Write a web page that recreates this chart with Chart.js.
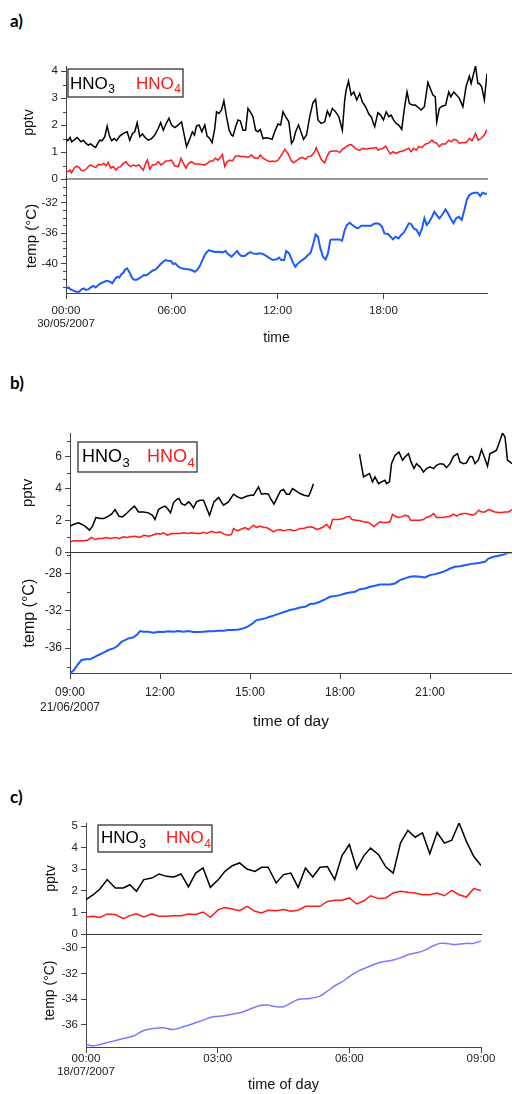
<!DOCTYPE html>
<html>
<head>
<meta charset="utf-8">
<script src="https://cdn.jsdelivr.net/npm/chart.js@4.4.0/dist/chart.umd.min.js"></script>
<style>
html, body { margin: 0; padding: 0; background: #fff; overflow: hidden; }
body { width: 512px; height: 1094px; position: relative; }
canvas { position: absolute; left: 0; }
.tag { position: absolute; left: 10px; font: bold 17px Lato, "Liberation Sans", sans-serif; color: #000; }
</style>
</head>
<body>
<div class="tag" style="top:10px">a)</div>
<div class="tag" style="top:372px">b)</div>
<div class="tag" style="top:786px">c)</div>
<script>
// ---- data (times in minutes from the first tick of each panel) ----
var dates = ['30/05/2007', '21/06/2007', '18/07/2007'];
var legendLabels = [['HNO', '3'], ['HNO', '4']];
// x tick positions (minutes)
var aXTicks = [0, 360, 720, 1080];
var bXTicks = [0, 180, 360, 540, 720];
var cXTicks = [0, 180, 360, 540];

// panel a
var aT3 = [0,6,14,19,27,38,51,59,68,76, 84,93,101,108,115,123,132,140,147,155,
  164,172,183,195,208,217,226,234,242,251, 260,269,280,291,302,314,322,331,340,350,
  359,370,381,393,401,410,419,430,437,444, 453,462,472,480,489,497,506,512,520,529,
  537,546,555,563,568,577,585,593,602,611, 619,627,636,645,653,661,670,682,693,701,
  710,721,730,738,747,758,767,774,781,791, 801,808,818,829,840,849,857,868,880,889,
  897,906,917,928,940,948,953,961,970,979, 989,999,1008,1019,1030,1038,1050,1061,1070,1080,
  1089,1098,1106,1114,1123,1132,1142,1151,1160,1168, 1178,1188,1198,1208,1219,1231,1239,1248,1256,1261,
  1270,1279,1291,1302,1309,1319,1329,1338,1350,1361, 1372,1378,1386,1393,1401,1406,1414,1423,1432];
var aHNO3 = [1.47,1.42,1.54,1.38,1.44,1.54,1.38,1.44,1.32,1.26, 1.30,1.22,1.17,1.32,1.44,1.42,1.57,1.96,1.63,1.42,
  1.5,1.42,1.59,1.69,1.75,1.44,1.69,1.75,2.09,1.57, 1.67,1.54,1.44,1.5,1.63,1.88,2.09,1.81,2.04,2.25,
  2.0,1.91,2.0,2.12,1.69,1.2,1.44,1.75,1.63,1.96, 2.0,1.75,2.0,1.59,1.5,1.35,1.88,2.49,2.43,2.56,
  2.9,2.31,1.81,1.63,1.59,1.94,2.19,2.15,1.81,1.81, 2.62,2.49,2.31,1.81,1.75,1.84,1.5,1.53,1.5,1.47,
  1.75,2.04,2.0,2.49,2.31,2.12,1.32,1.44,1.75,2.0, 1.69,1.47,1.63,2.31,2.83,2.95,2.19,2.06,2.12,2.52,
  2.33,2.62,2.49,2.31,1.81,2.93,3.30,3.63,3.11,3.23, 2.93,3.17,2.86,2.68,2.41,2.31,1.94,2.46,2.37,2.19,
  2.49,2.31,2.37,2.19,2.06,2.0,1.84,2.62,3.23,2.80, 2.74,2.74,2.65,2.56,2.68,3.58,3.36,3.11,3.05,2.12,
  2.62,2.70,2.74,3.23,3.05,3.23,3.11,2.99,2.68,3.44, 3.81,3.54,3.89,4.19,3.54,3.54,3.42,2.93,3.91];
var aT4 = [0,6,14,19,27,36,44,51,59,68, 76,84,93,101,110,119,129,136,144,152,
  161,170,178,186,195,204,212,220,229,238, 249,257,263,271,277,285,294,305,314,323,
  331,340,350,359,370,382,391,399,408,417, 427,438,449,461,472,483,491,500,508,517,
  529,532,540,548,557,566,577,585,597,608, 619,631,642,653,661,670,682,693,702,710,
  721,733,744,755,766,774,783,795,804,815, 823,834,846,851,860,868,880,888,897,908,
  922,931,940,953,962,970,978,987,999,1010, 1021,1035,1046,1055,1061,1069,1078,1087,1095,1103,
  1112,1123,1134,1146,1157,1166,1174,1182,1191,1200, 1211,1223,1234,1245,1253,1261,1270,1279,1291,1302,
  1310,1319,1329,1338,1350,1361,1372,1381,1393,1402, 1412,1423,1432];
var aHNO4 = [0.31,0.27,0.33,0.23,0.40,0.48,0.43,0.33,0.30,0.36, 0.46,0.52,0.46,0.43,0.54,0.52,0.58,0.49,0.62,0.40,
  0.46,0.33,0.43,0.46,0.58,0.64,0.52,0.46,0.52,0.48, 0.52,0.40,0.33,0.58,0.70,0.36,0.52,0.54,0.64,0.52,
  0.58,0.67,0.68,0.70,0.48,0.46,0.77,0.58,0.40,0.58, 0.64,0.56,0.56,0.54,0.52,0.60,0.67,0.67,0.77,0.70,
  0.85,0.91,0.46,0.64,0.70,0.67,0.85,0.85,0.83,0.83, 0.80,0.89,0.77,0.77,0.89,0.77,0.70,0.64,0.67,0.64,
  0.70,0.89,1.10,0.95,0.68,0.60,0.67,0.77,0.80,0.73, 0.83,0.85,1.01,1.16,0.93,0.73,0.60,0.85,1.01,1.04,
  1.04,0.98,1.10,1.20,1.26,1.28,1.20,1.11,1.07,1.14, 1.10,1.14,1.14,1.17,1.07,1.10,1.14,1.22,1.07,0.93,
  1.01,0.95,1.01,1.04,1.10,1.14,1.01,1.14,1.07,1.20, 1.17,1.30,1.33,1.44,1.35,1.33,1.20,1.30,1.30,1.44,
  1.38,1.47,1.44,1.33,1.35,1.35,1.51,1.42,1.69,1.44, 1.51,1.63,1.84];
var aTt = [0,8,16,25,34,45,53,61,68,76, 84,93,101,110,118,129,138,150,157,166,
  174,181,189,195,200,208,215,223,229,238, 249,257,265,274,283,294,305,314,322,331,
  338,347,357,365,372,382,393,404,416,427, 438,446,455,464,472,480,487,495,506,517,
  532,543,551,563,574,582,589,597,608,619, 627,636,648,659,670,682,693,704,716,725,
  732,742,749,759,766,772,780,789,800,812, 823,832,840,849,857,865,874,883,891,899,
  908,919,928,939,948,955,965,974,985,993, 1004,1015,1027,1038,1046,1055,1066,1075,1083,1095,
  1104,1112,1121,1131,1140,1149,1157,1166,1174,1183, 1193,1202,1211,1219,1227,1236,1245,1253,1261,1270,
  1279,1291,1299,1308,1318,1327,1336,1346,1355,1363, 1372,1381,1391,1400,1409,1417,1426,1432];
var aTemp = [-43.2,-43.07,-43.33,-43.5,-43.63,-43.63,-43.33,-43.2,-43.41,-43.33, -43.07,-42.89,-43.07,-42.76,-42.55,-42.37,-42.2,-42.33,-42.55,-42.03,
  -41.68,-41.81,-41.33,-41.16,-40.81,-40.59,-41.03,-41.68,-42.03,-42.11, -41.9,-41.68,-41.46,-41.5,-41.24,-40.9,-40.72,-40.38,-40.03,-39.73,
  -39.51,-39.6,-39.64,-40.03,-39.94,-40.38,-40.59,-40.68,-40.72,-40.81, -41.03,-40.81,-40.29,-39.51,-38.86,-38.42,-38.21,-38.34,-38.47,-38.42,
  -38.51,-38.34,-38.73,-39.07,-38.64,-38.34,-38.73,-38.99,-38.99,-38.64, -38.47,-38.64,-38.73,-38.64,-38.73,-38.99,-39.29,-39.51,-39.42,-39.2,
  -39.51,-39.51,-38.34,-38.64,-39.29,-39.86,-40.38,-39.94,-39.6,-39.29, -38.86,-38.55,-37.56,-36.17,-36.47,-37.99,-39.07,-39.42,-38.64,-36.9,
  -36.82,-36.82,-36.82,-36.99,-35.6,-34.95,-34.65,-34.95,-35.26,-35.39, -35.04,-35.04,-35.04,-35.04,-34.82,-34.73,-34.82,-35.17,-36.04,-36.12,
  -36.47,-36.82,-36.47,-36.69,-36.25,-35.95,-35.39,-34.73,-34.82,-35.39, -35.6,-36.25,-35.39,-34.08,-34.95,-34.52,-33.87,-33.22,-33.65,-34.08,
  -33.65,-32.91,-33.43,-34.08,-34.73,-34.08,-33.87,-34.3,-33.0,-31.7, -31.05,-30.83,-30.74,-30.74,-31.18,-30.74,-30.91,-30.83];

// panel b (minutes after 09:00)
var bT3 = [0,8,17,23,30,39,45,52,60,68, 77,83,90,98,105,113,121,129,137,147,
  157,165,170,177,183,190,195,201,207,213, 218,223,230,237,241,247,253,260,267,279,
  288,297,307,317,327,335,343,353,361,367, 377,383,390,397,401,408,415,421,427,433,
  439,445,452,460,468,477,481,487,530,
  579,587,592,599,605,610,617,623,630,633, 639,643,650,658,665,670,677,682,688,693,
  700,707,713,720,727,733,740,747,753,760, 767,775,780,787,793,800,805,810,817,823,
  829,835,840,847,853,859,865,870,875,880, 884];
var bHNO3 = [1.67,1.79,1.88,1.79,1.67,1.42,1.67,2.21,2.15,2.15, 2.29,2.42,2.71,2.29,2.25,2.46,2.71,2.92,2.56,2.56,
  2.5,2.35,2.08,2.71,2.83,2.92,2.77,2.5,3.13,3.33, 3.4,3.08,2.98,3.19,3.08,2.81,3.19,3.29,3.29,2.35,
  3.19,3.46,2.98,3.19,3.67,3.5,3.4,3.54,3.6,3.6, 4.13,3.67,3.71,3.67,3.4,3.04,3.5,3.88,3.96,3.67,
  3.67,4.02,3.88,3.71,3.6,3.54,3.81,4.33,null,
  6.17,4.75,4.85,4.96,4.44,4.75,4.33,4.44,4.54,4.33, 4.44,5.58,6.1,6.31,5.79,6.0,6.21,5.69,5.27,5.58,
  5.38,5.06,5.27,5.38,5.27,5.48,5.58,5.54,5.33,5.58, 6.04,6.21,5.69,5.58,5.63,6.04,6.0,5.58,5.83,6.46,
  5.96,5.42,6.21,6.31,6.42,6.94,7.5,7.25,5.79,5.69, 5.58];
var bT4 = [0,8,17,27,35,43,50,57,65,73, 81,90,99,107,113,121,130,139,148,157,
  165,173,180,187,195,203,210,220,227,235, 243,253,260,268,273,283,292,300,308,317,
  323,327,335,341,350,357,367,373,380,387, 393,400,407,413,420,427,433,440,447,453,
  460,467,473,480,487,493,500,507,513,520, 525,532,539,547,553,559,564,572,580,587,
  597,603,608,613,620,627,633,640,645,651, 657,663,670,677,681,687,693,700,707,713,
  720,727,733,740,747,753,760,767,773,780, 787,793,800,805,812,817,823,830,837,843,
  850,857,863,870,877,884];
var bHNO4 = [0.69,0.75,0.75,0.75,0.79,0.96,0.83,0.90,0.90,0.96, 0.90,0.96,0.90,1.0,0.96,1.0,1.04,0.96,1.10,1.04,
  1.10,1.21,1.17,1.25,1.10,1.21,1.21,1.21,1.25,1.21, 1.25,1.21,1.21,1.29,1.21,1.35,1.25,1.31,1.17,1.10,
  1.15,1.52,1.38,1.46,1.58,1.46,1.73,1.58,1.67,1.58, 1.58,1.46,1.31,1.42,1.46,1.38,1.42,1.46,1.38,1.42,
  1.52,1.52,1.58,1.63,1.58,1.46,1.52,1.63,1.79,1.52, 2.08,2.08,2.10,2.15,2.25,2.29,2.08,2.04,2.0,1.94,
  1.9,1.77,1.63,1.79,1.94,1.9,1.9,1.94,2.40,2.29, 2.21,2.25,2.35,2.29,2.04,2.04,2.04,2.04,2.08,2.21,
  2.29,2.46,2.21,2.21,2.21,2.25,2.29,2.42,2.29,2.42, 2.46,2.46,2.40,2.35,2.46,2.67,2.56,2.56,2.71,2.63,
  2.56,2.52,2.52,2.56,2.56,2.71];
var bTt = [0,8,15,23,32,40,48,57,67,77, 87,95,103,110,117,127,135,140,147,157,
  167,177,187,197,207,217,227,237,247,257, 267,277,287,297,307,317,327,337,347,357,
  367,373,380,390,400,410,420,430,440,450, 460,470,480,490,500,510,520,530,540,550,
  560,570,580,590,600,610,620,630,640,650, 660,670,680,690,700,710,720,730,740,750,
  760,770,780,790,800,810,820,830,837,847, 857,867,877,884];
var bTemp = [-38.70,-38.34,-37.80,-37.27,-37.20,-37.20,-36.98,-36.73,-36.48,-36.20, -36.02,-35.77,-35.31,-35.13,-34.95,-34.84,-34.52,-34.17,-34.24,-34.24,
  -34.35,-34.24,-34.27,-34.20,-34.24,-34.17,-34.24,-34.17,-34.27,-34.27, -34.24,-34.20,-34.20,-34.13,-34.13,-34.06,-34.06,-33.99,-33.88,-33.63,
  -33.28,-32.99,-32.92,-32.81,-32.63,-32.46,-32.28,-32.10,-31.92,-31.81, -31.64,-31.57,-31.28,-31.21,-31.03,-30.78,-30.50,-30.42,-30.32,-30.14,
  -30.03,-29.96,-29.68,-29.60,-29.43,-29.32,-29.18,-29.18,-29.18,-29.07, -28.71,-28.53,-28.36,-28.29,-28.36,-28.43,-28.18,-28.07,-27.93,-27.75,
  -27.47,-27.29,-27.22,-27.11,-27.0,-26.93,-26.86,-26.75,-26.40,-26.22, -26.11,-25.97,-25.79,-25.75];

// panel c (minutes after 00:00)
var cT = [0,10,19,29,40,51,60,69,79,90, 100,110,120,130,140,150,160,170,181,190,
  200,210,220,231,240,249,260,270,280,290, 300,310,320,330,340,350,360,370,380,389,
  400,410,420,430,440,450,460,470,480,490, 500,510,520,530,540];
var cHNO3 = [1.59,1.82,2.08,2.52,2.13,2.13,2.28,1.98,2.52,2.59, 2.78,2.67,2.64,2.78,2.18,2.82,3.06,2.16,2.52,2.90,
  3.16,3.29,3.01,2.90,3.09,3.09,2.36,2.75,2.82,2.16, 3.06,2.64,3.09,3.12,2.52,3.63,4.14,3.02,3.63,3.98,
  3.67,3.10,2.82,4.22,4.80,4.48,4.68,3.72,4.70,4.21, 4.34,5.14,4.29,3.60,3.17];
var cHNO4 = [0.79,0.82,0.77,0.93,0.90,0.71,0.85,0.94,0.79,0.93, 0.82,0.82,0.85,0.85,0.93,0.90,1.02,0.77,1.13,1.23,
  1.16,1.08,1.28,1.05,0.97,1.10,1.08,1.13,1.05,1.10, 1.28,1.28,1.28,1.51,1.56,1.56,1.67,1.39,1.54,1.77,
  1.64,1.67,1.90,1.98,1.93,1.90,1.82,1.82,1.90,1.77, 2.02,1.82,1.71,2.10,2.01];
var cTt = [0,10,19,33,51,65,78,92,106,119, 133,147,160,174,188,201,215,229,238,247,
  261,270,279,290,306,320,329,340,350,361, 372,384,395,406,420,432,441,452,463,475,
  484,493,502,511,520,529,540];
var cTemp = [-37.52,-37.63,-37.52,-37.32,-37.06,-36.87,-36.46,-36.28,-36.23,-36.36, -36.15,-35.89,-35.63,-35.37,-35.29,-35.16,-34.98,-34.67,-34.49,-34.46,
  -34.59,-34.59,-34.33,-34.02,-33.94,-33.76,-33.42,-32.96,-32.65,-32.20, -31.82,-31.53,-31.27,-31.09,-30.96,-30.75,-30.52,-30.39,-30.18,-29.84,
  -29.66,-29.66,-29.74,-29.71,-29.66,-29.66,-29.48];

// ---- helpers ----
var FONT = '"Liberation Sans", Arial, sans-serif';
var RED = '#ff1a1a';

Chart.defaults.font.family = FONT;
Chart.defaults.color = '#222';
Chart.defaults.animation = false;

function pts(t, v) {
  return t.map(function (x, i) { return {x: x, y: v[i]}; });
}

function hhmm(min, start) {
  var m = start + min;
  var h = Math.floor(m / 60) % 24, mm = m % 60;
  return (h < 10 ? '0' : '') + h + ':' + (mm < 10 ? '0' : '') + mm;
}

function isMajor(v, every) {
  var r = Math.abs(v % every);
  return r < 1e-6 || Math.abs(r - every) < 1e-6;
}

// short minor ticks on the y axis
var minorTicks = {
  id: 'minorTicks',
  afterDraw: function (chart, args, o) {
    if (!o.every) return;
    var s = chart.scales.y, ctx = chart.ctx;
    ctx.save();
    ctx.strokeStyle = '#444';
    ctx.lineWidth = 1;
    s.ticks.forEach(function (t) {
      if (isMajor(t.value, o.every)) return;
      var y = Math.round(s.getPixelForValue(t.value)) + 0.5;
      ctx.beginPath();
      ctx.moveTo(s.right - 3, y);
      ctx.lineTo(s.right, y);
      ctx.stroke();
    });
    ctx.restore();
  }
};

// boxed legend with subscripts
var subLegend = {
  id: 'subLegend',
  afterDraw: function (chart, args, o) {
    if (!o.box) return;
    var ctx = chart.ctx, a = chart.chartArea;
    ctx.save();
    ctx.fillStyle = '#fff';
    ctx.strokeStyle = '#333';
    ctx.lineWidth = 1.3;
    ctx.fillRect(a.left + o.box[0], a.top + o.box[1], o.box[2], o.box[3]);
    ctx.strokeRect(a.left + o.box[0], a.top + o.box[1], o.box[2], o.box[3]);
    ctx.textBaseline = 'alphabetic';
    o.items.forEach(function (it, i) {
      var lab = legendLabels[i];
      ctx.fillStyle = it.color;
      ctx.font = o.size + 'px ' + FONT;
      ctx.fillText(lab[0], a.left + it.x, a.top + o.base);
      var w = ctx.measureText(lab[0]).width;
      ctx.font = o.sub + 'px ' + FONT;
      ctx.fillText(lab[1], a.left + it.x + w + 0.5, a.top + o.base + o.drop);
    });
    ctx.restore();
  }
};

function yScale(o) {
  return {
    type: 'linear', position: 'left', min: o.min, max: o.max,
    afterFit: function (s) { s.width = o.width; },
    border: {color: '#444', width: 1},
    grid: {
      drawOnChartArea: false, tickLength: 5, tickWidth: 1,
      tickColor: function (c) { return c.tick && isMajor(c.tick.value, o.every) ? '#444' : 'rgba(0,0,0,0)'; }
    },
    ticks: {
      stepSize: o.step, autoSkip: false, includeBounds: false, padding: 3,
      color: '#222', font: {size: o.fs},
      callback: function (v) { return isMajor(v, o.every) ? String(Math.round(v)) : ''; }
    },
    title: {display: true, text: o.title, padding: 0, color: '#111', font: {size: o.ts}}
  };
}

function xScale(o, show) {
  return {
    type: 'linear', min: 0, max: o.max,
    afterFit: function (s) { s.height = show ? o.xh : 0; },
    afterBuildTicks: function (s) { s.ticks = o.ticks.map(function (v) { return {value: v}; }); },
    border: show ? {color: '#444', width: 1} : {color: o.sepColor, width: o.sepWidth},
    grid: {drawOnChartArea: false, drawTicks: show, tickLength: 6, tickColor: '#444'},
    ticks: {
      display: show, autoSkip: false, maxRotation: 0,
      padding: o.tp, color: '#222', font: {size: o.fs, lineHeight: o.lh},
      callback: function (v) { return v === 0 ? [hhmm(v, o.start), o.date] : hhmm(v, o.start); }
    },
    title: {display: show, text: o.xtitle, padding: 0, color: '#111', font: {size: o.xts}}
  };
}

function line(t, v, color, width, tension) {
  return {data: pts(t, v), borderColor: color, borderWidth: width, pointRadius: 0,
    tension: tension || 0, spanGaps: false, fill: false};
}

function makeChart(top, height, datasets, scales, padding, plugins) {
  var cv = document.createElement('canvas');
  cv.width = 512;
  cv.height = height;
  cv.style.top = top + 'px';
  document.body.appendChild(cv);
  plugins.legend = {display: false};
  plugins.tooltip = {enabled: false};
  return new Chart(cv, {
    type: 'line',
    data: {datasets: datasets},
    options: {
      responsive: false, animation: false, events: [],
      layout: {padding: padding},
      scales: scales,
      plugins: plugins
    },
    plugins: [minorTicks, subLegend]
  });
}

// ---- panel a ----
var ax = {max: 1432, ticks: aXTicks, start: 0, date: dates[0], xh: 54, tp: 6, fs: 11.5, lh: 1.1,
  xtitle: 'time', xts: 14, sepColor: '#999', sepWidth: 2};
makeChart(54, 135,
  [line(aT3, aHNO3, '#000', 1.5), line(aT4, aHNO4, RED, 1.5)],
  {x: xScale(ax, false),
   y: yScale({min: 0, max: 4.19, step: 0.5, every: 1, width: 45, fs: 11.5, title: 'pptv', ts: 14})},
  {left: 21, right: 25, top: 12, bottom: 10},
  {minorTicks: {every: 1},
   subLegend: {box: [2, 3, 115, 28], base: 22.5, size: 17, sub: 12, drop: 4.5,
     items: [{x: 4, color: '#000'}, {x: 70, color: RED}]}});
makeChart(169, 178,
  [line(aTt, aTemp, '#1e5bff', 2)],
  {x: xScale(ax, true),
   y: yScale({min: -43.8, max: -28.96, step: 1, every: 4, width: 43, fs: 11.5, title: 'temp (°C)', ts: 15})},
  {left: 23, right: 25, top: 10, bottom: 0},
  {minorTicks: {every: 4}});

// ---- panel b ----
var bx = {max: 884, ticks: bXTicks, start: 540, date: dates[1], xh: 58, tp: 6, fs: 12, lh: 1.25,
  xtitle: 'time of day', xts: 15.5, sepColor: '#333', sepWidth: 1};
makeChart(421, 142,
  [line(bT3, bHNO3, '#000', 1.5), line(bT4, bHNO4, RED, 1.5)],
  {x: xScale(bx, false),
   y: yScale({min: 0, max: 7.5, step: 1, every: 2, width: 51, fs: 12, title: 'pptv', ts: 15})},
  {left: 19, right: 0, top: 12, bottom: 10},
  {minorTicks: {every: 2},
   subLegend: {box: [8, 9, 119, 30], base: 29, size: 18, sub: 13, drop: 5,
     items: [{x: 12, color: '#000'}, {x: 77, color: RED}]}});
makeChart(543, 188,
  [line(bTt, bTemp, '#1e5bff', 2)],
  {x: xScale(bx, true),
   y: yScale({min: -38.66, max: -25.83, step: 2, every: 4, width: 50, fs: 12, title: 'temp (°C)', ts: 16})},
  {left: 20, right: 0, top: 10, bottom: 0},
  {minorTicks: {every: 4}});

// ---- panel c ----
var cx = {max: 540, ticks: cXTicks, start: 0, date: dates[2], xh: 47, tp: 0, fs: 11.5, lh: 1.1,
  xtitle: 'time of day', xts: 14.5, sepColor: '#333', sepWidth: 1};
makeChart(811, 133,
  [line(cT, cHNO3, '#000', 1.5), line(cT, cHNO4, RED, 1.5)],
  {x: xScale(cx, false),
   y: yScale({min: 0, max: 5.14, step: 1, every: 1, width: 43, fs: 11.5, title: 'pptv', ts: 14})},
  {left: 43, right: 31, top: 12, bottom: 10},
  {minorTicks: {every: 0},
   subLegend: {box: [12, 2, 114, 27], base: 20, size: 17, sub: 12, drop: 4.5,
     items: [{x: 15, color: '#000'}, {x: 80, color: RED}]}});
makeChart(924, 170,
  [line(cTt, cTemp, '#7a7aff', 1.5, 0.3)],
  {x: xScale(cx, true),
   y: yScale({min: -37.72, max: -28.93, step: 2, every: 2, width: 44, fs: 11.5, title: 'temp (°C)', ts: 14})},
  {left: 42, right: 31, top: 10, bottom: 0},
  {minorTicks: {every: 0}});
</script>
</body>
</html>
